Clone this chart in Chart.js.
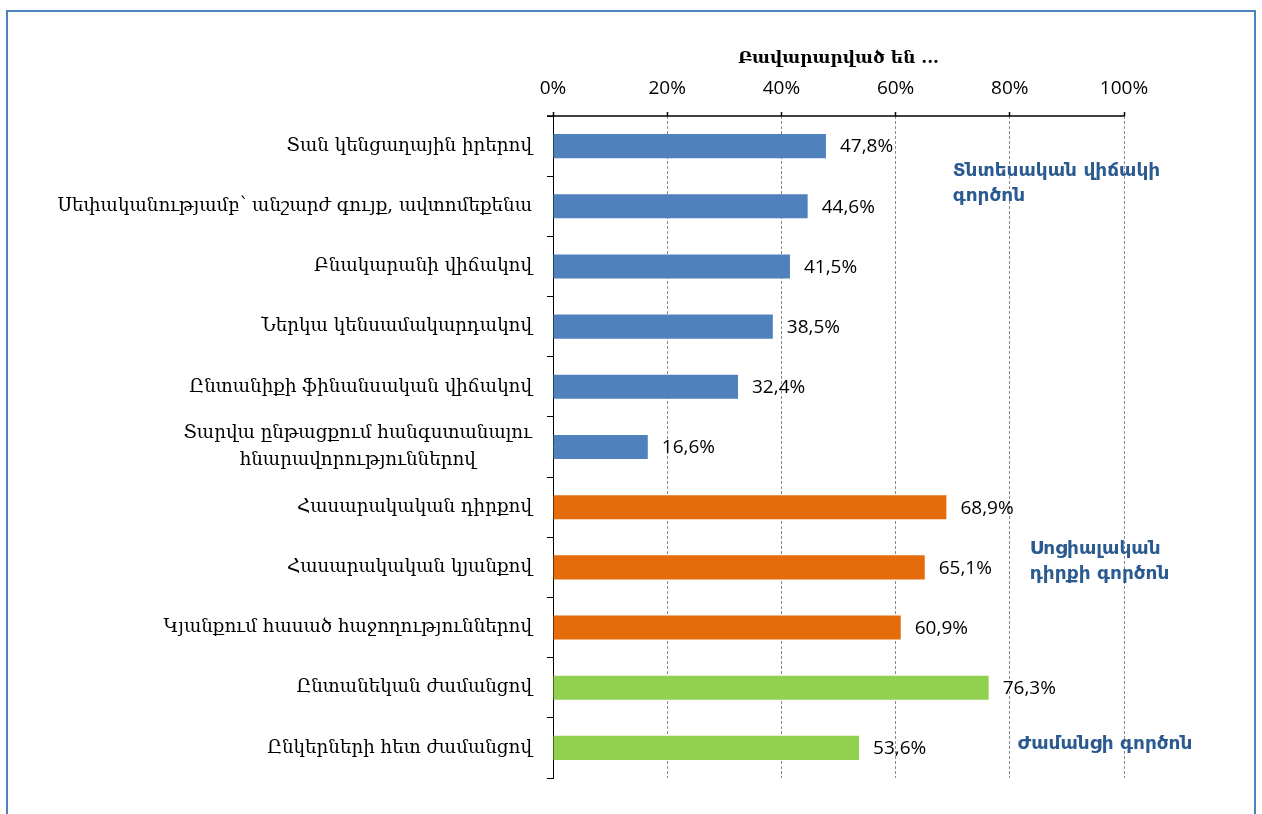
<!doctype html>
<html lang="hy">
<head>
<meta charset="utf-8">
<title>Բավարարված են ...</title>
<style>
  html, body { margin: 0; padding: 0; background: #fff; }
  .wrap { position: relative; width: 1262px; height: 814px; overflow: hidden; }
  .frame { position: absolute; left: 6px; top: 10px; width: 1250px; height: 900px;
           box-sizing: border-box; border: 2px solid #4f81bd; pointer-events: none; }
  canvas { position: absolute; left: 0; top: 0; }
</style>
</head>
<body>
<div class="wrap">
  <canvas id="chart" width="1262" height="814"></canvas>
  <div class="frame"></div>
</div>
<script src="https://cdn.jsdelivr.net/npm/chart.js@4.4.1/dist/chart.umd.min.js"></script>
<script>
const title = 'Բավարարված են ...';
const categories = [
  'Տան կենցաղային իրերով',
  'Սեփականությամբ՝ անշարժ գույք, ավտոմեքենա',
  'Բնակարանի վիճակով',
  'Ներկա կենսամակարդակով',
  'Ընտանիքի ֆինանսական վիճակով',
  ['Տարվա ընթացքում հանգստանալու', 'հնարավորություններով'],
  'Հասարակական դիրքով',
  'Հասարակական կյանքով',
  'Կյանքում հասած հաջողություններով',
  'Ընտանեկան ժամանցով',
  'Ընկերների հետ ժամանցով'
];
const values = [47.8, 44.6, 41.5, 38.5, 32.4, 16.6, 68.9, 65.1, 60.9, 76.3, 53.6];
const groupOf = [0, 0, 0, 0, 0, 0, 1, 1, 1, 2, 2];
const groupColors = ['#4f81bd', '#e46c0a', '#92d050'];
const groupNames = [
  ['Տնտեսական վիճակի', 'գործոն'],
  ['Սոցիալական', 'դիրքի գործոն'],
  ['Ժամանցի գործոն']
];
// where each group name sits: [x value in %, category index]
const groupNameAt = [[70, 0.63], [83.5, 6.9], [81.4, 9.93]];
const xTicks = [0, 20, 40, 60, 80, 100];

const numFont = 'Open Sans';
const labelFont = 'DejaVu Serif';

function fmt(v) {
  return v.toFixed(1).replace('.', ',') + '%';
}

const labelsPlugin = {
  id: 'labels',
  afterDraw(chart) {
    const c = chart.ctx;
    const x = chart.scales.x;
    const y = chart.scales.y;

    c.save();
    // solid top axis line (the x border option carries the grid dash)
    c.strokeStyle = '#000';
    c.lineWidth = 1.3;
    c.beginPath();
    c.moveTo(x.getPixelForValue(0) - 6, x.bottom);
    c.lineTo(x.getPixelForValue(100) + 0.5, x.bottom);
    c.stroke();

    // category labels, multi-line ones centred on their widest line
    c.fillStyle = '#000';
    c.font = '18.3px "' + labelFont + '"';
    c.textBaseline = 'middle';
    const right = y.right - 6 - 15;
    categories.forEach((lab, i) => {
      const lines = Array.isArray(lab) ? lab : [lab];
      const widest = Math.max(...lines.map((l) => c.measureText(l).width));
      const lh = 27;
      const yc = y.getPixelForValue(i);
      lines.forEach((l, k) => {
        const ly = yc + (k - (lines.length - 1) / 2) * lh;
        if (lines.length > 1) {
          c.textAlign = 'center';
          c.fillText(l, right - widest / 2, ly);
        } else {
          c.textAlign = 'right';
          c.fillText(l, right, ly);
        }
      });
    });

    // value labels
    c.font = '19px "' + numFont + '"';
    c.textAlign = 'left';
    values.forEach((v, i) => {
      c.fillText(fmt(v), x.getPixelForValue(v) + 14, y.getPixelForValue(i) + 1);
    });

    // group names
    c.fillStyle = '#2a5a8f';
    c.font = 'bold 18.5px "DejaVu Sans"';
    groupNames.forEach((lines, g) => {
      const px = x.getPixelForValue(groupNameAt[g][0]);
      const py = y.getPixelForValue(groupNameAt[g][1]);
      lines.forEach((l, k) => {
        c.fillText(l, px, py + (k - (lines.length - 1) / 2) * 25);
      });
    });
    c.restore();
  }
};

const ctx = document.getElementById('chart');
new Chart(ctx, {
  type: 'bar',
  data: {
    labels: categories,
    datasets: [{
      data: values,
      backgroundColor: groupOf.map((g) => groupColors[g]),
      barPercentage: 0.4,
      categoryPercentage: 1
    }]
  },
  options: {
    indexAxis: 'y',
    responsive: false,
    animation: false,
    layout: { padding: { top: 0, right: 138, bottom: 36, left: 0 } },
    plugins: {
      legend: { display: false },
      tooltip: { enabled: false }
    },
    scales: {
      x: {
        position: 'top',
        min: 0,
        max: 100,
        afterBuildTicks: (s) => { s.ticks = xTicks.map((v) => ({ value: v })); },
        afterFit: (s) => { s.height = 116; },
        title: {
          display: true,
          text: title,
          color: '#000',
          font: { family: labelFont, size: 17, weight: 'bold' },
          padding: { top: 48, bottom: 0 }
        },
        ticks: {
          color: '#000',
          font: { family: numFont, size: 19 },
          padding: 12,
          maxRotation: 0,
          callback: (v) => v + '%'
        },
        grid: {
          color: (c) => (c.tick && c.tick.value === 0 ? 'rgba(0,0,0,0)' : '#8a8a8a'),
          tickColor: '#000',
          tickWidth: 1.5,
          tickLength: 4,
          tickBorderDash: []
        },
        border: { display: false, dash: [3, 2] }
      },
      y: {
        afterFit: (s) => { s.width = 553; },
        ticks: { display: false },
        grid: {
          offset: true,
          drawOnChartArea: false,
          color: '#000',
          tickLength: 6
        },
        border: { display: true, color: '#000', width: 1 }
      }
    }
  },
  plugins: [labelsPlugin]
});
</script>
</body>
</html>
